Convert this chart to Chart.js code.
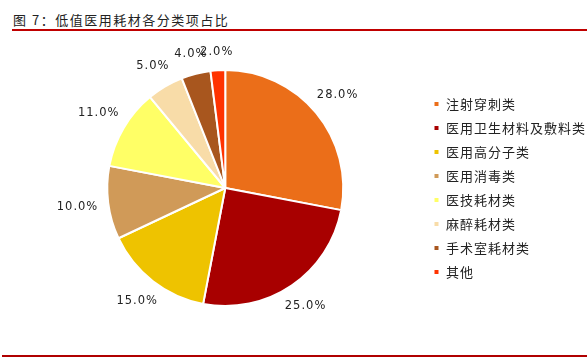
<!DOCTYPE html>
<html>
<head>
<meta charset="utf-8">
<script src="https://cdn.jsdelivr.net/npm/chart.js@4"></script>
<style>
  body { margin: 0; background: #fff; width: 587px; height: 359px; overflow: hidden; position: relative; }
  #title { position: absolute; left: 13px; top: 10px; font: 13px "Noto Sans CJK SC"; color: #222; letter-spacing: 1.5px; }
  #topline { position: absolute; left: 12px; right: 0; top: 29px; height: 2px; background: #c00000; }
  #bottomline { position: absolute; left: 2px; right: 0; top: 355px; height: 2px; background: #b00000; }
  #wrap { position: absolute; left: 0; top: 0; width: 596px; height: 359px; }
</style>
</head>
<body>
<div id="title">图 7：低值医用耗材各分类项占比</div>
<div id="topline"></div>
<div id="bottomline"></div>
<div id="wrap"><canvas id="pie"></canvas></div>
<script>
const categories = ["注射穿刺类", "医用卫生材料及敷料类", "医用高分子类", "医用消毒类", "医技耗材类", "麻醉耗材类", "手术室耗材类", "其他"];
const shares = [28, 25, 15, 10, 11, 5, 4, 2];
const colors = ["#eb6e19", "#a80000", "#eec300", "#d09a58", "#ffff66", "#f8dca8", "#a8561e", "#ff3300"];

// the source uses a widely spaced font, so space the canvas text a little
const spacing = {
  id: "spacing",
  beforeUpdate(chart) { chart.ctx.letterSpacing = "1px"; },
  beforeDraw(chart) { chart.ctx.letterSpacing = "1px"; },
};

// percentage labels outside each slice
const outsideLabels = {
  id: "outsideLabels",
  afterDatasetsDraw(chart) {
    const ctx = chart.ctx;
    const meta = chart.getDatasetMeta(0);
    ctx.save();
    ctx.font = '11.5px "DejaVu Sans"';
    ctx.fillStyle = "#222";
    ctx.textAlign = "center";
    ctx.textBaseline = "middle";
    meta.data.forEach((arc, i) => {
      const mid = (arc.startAngle + arc.endAngle) / 2;
      const d = arc.outerRadius + 17 + 14 * Math.abs(Math.cos(mid));
      ctx.fillText(shares[i].toFixed(1) + "%", arc.x + Math.cos(mid) * d, arc.y + Math.sin(mid) * d);
    });
    ctx.restore();
  },
};

new Chart(document.getElementById("pie"), {
  type: "pie",
  data: {
    labels: categories,
    datasets: [
      {
        data: shares,
        backgroundColor: colors,
        borderColor: "#fff",
        borderWidth: 2,
      },
    ],
  },
  options: {
    responsive: true,
    maintainAspectRatio: false,
    animation: false,
    layout: { padding: { left: 28, top: 69, bottom: 52, right: 0 } },
    plugins: {
      legend: {
        position: "right",
        labels: {
          boxWidth: 6,
          boxHeight: 6,
          padding: 11,
          color: "#222",
          font: { family: "Noto Sans CJK SC", size: 13 },
        },
      },
      tooltip: { enabled: false },
    },
  },
  plugins: [spacing, outsideLabels],
});
</script>
</body>
</html>
